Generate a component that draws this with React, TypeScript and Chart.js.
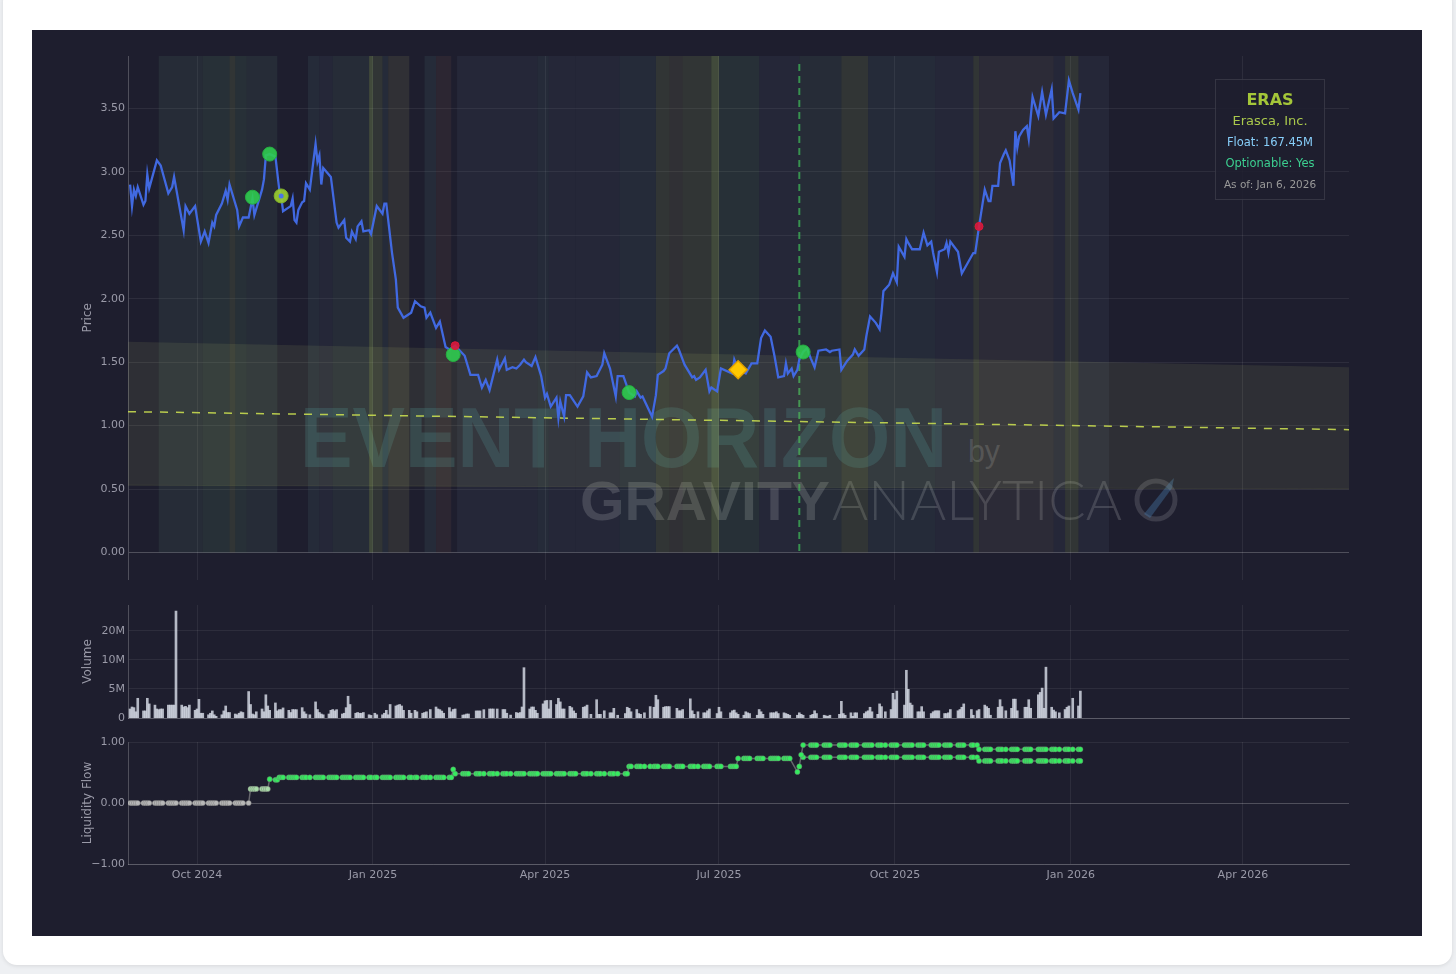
import React, { useEffect, useRef } from "react";
import { Chart, registerables } from "chart.js";

Chart.register(...registerables);

// ---------------- Price series ----------------
const priceDates = [
  "2024-08-27","2024-08-28","2024-08-29","2024-08-30","2024-08-31","2024-09-03","2024-09-04","2024-09-05","2024-09-06","2024-09-10",
  "2024-09-12","2024-09-16","2024-09-18","2024-09-19","2024-09-24","2024-09-25","2024-09-27","2024-09-30","2024-10-03","2024-10-05",
  "2024-10-07","2024-10-09","2024-10-10","2024-10-11","2024-10-14","2024-10-16","2024-10-17","2024-10-18","2024-10-22","2024-10-23",
  "2024-10-25","2024-10-28","2024-10-30","2024-10-31","2024-11-04","2024-11-05","2024-11-06","2024-11-08","2024-11-11","2024-11-13",
  "2024-11-14","2024-11-15","2024-11-19","2024-11-20","2024-11-21","2024-11-22","2024-11-23","2024-11-25","2024-11-26","2024-11-27",
  "2024-11-29","2024-12-02","2024-12-03","2024-12-04","2024-12-05","2024-12-06","2024-12-10","2024-12-13","2024-12-14","2024-12-17",
  "2024-12-18","2024-12-20","2024-12-21","2024-12-23","2024-12-24","2024-12-26","2024-12-27","2024-12-30","2024-12-31","2025-01-03",
  "2025-01-06","2025-01-07","2025-01-08","2025-01-11","2025-01-13","2025-01-14","2025-01-17","2025-01-21","2025-01-23","2025-01-26",
  "2025-01-28","2025-01-29","2025-01-31","2025-02-03","2025-02-05","2025-02-08","2025-02-10","2025-02-13","2025-02-18","2025-02-21",
  "2025-02-25","2025-02-27","2025-03-01","2025-03-03","2025-03-05","2025-03-07","2025-03-08","2025-03-11","2025-03-12","2025-03-15",
  "2025-03-17","2025-03-19","2025-03-21","2025-03-22","2025-03-25","2025-03-27","2025-03-30","2025-04-01","2025-04-02","2025-04-04",
  "2025-04-07","2025-04-08","2025-04-09","2025-04-11","2025-04-12","2025-04-14","2025-04-18","2025-04-21","2025-04-23","2025-04-25",
  "2025-04-28","2025-05-01","2025-05-02","2025-05-05","2025-05-08","2025-05-09","2025-05-12","2025-05-15","2025-05-18","2025-05-19",
  "2025-05-21","2025-05-22","2025-05-27","2025-05-29","2025-05-30","2025-06-02","2025-06-03","2025-06-05","2025-06-09","2025-06-10",
  "2025-06-12","2025-06-13","2025-06-17","2025-06-18","2025-06-19","2025-06-21","2025-06-24","2025-06-26","2025-06-27","2025-06-30",
  "2025-07-02","2025-07-08","2025-07-09","2025-07-11","2025-07-15","2025-07-18","2025-07-21","2025-07-23","2025-07-25","2025-07-28",
  "2025-07-30","2025-08-01","2025-08-04","2025-08-05","2025-08-06","2025-08-08","2025-08-09","2025-08-11","2025-08-12","2025-08-14",
  "2025-08-16","2025-08-18","2025-08-20","2025-08-22","2025-08-26","2025-08-28","2025-08-29","2025-09-02","2025-09-03","2025-09-06",
  "2025-09-09","2025-09-10","2025-09-12","2025-09-15","2025-09-16","2025-09-18","2025-09-21","2025-09-23","2025-09-24","2025-09-25",
  "2025-09-28","2025-09-30","2025-10-02","2025-10-03","2025-10-06","2025-10-07","2025-10-08","2025-10-10","2025-10-14","2025-10-16",
  "2025-10-18","2025-10-20","2025-10-21","2025-10-23","2025-10-24","2025-10-27","2025-10-28","2025-10-29","2025-10-30","2025-11-01",
  "2025-11-03","2025-11-05","2025-11-08","2025-11-11","2025-11-12","2025-11-14","2025-11-17","2025-11-19","2025-11-20","2025-11-21",
  "2025-11-24","2025-11-25","2025-11-27","2025-11-28","2025-11-30","2025-12-02","2025-12-03","2025-12-04","2025-12-05","2025-12-07",
  "2025-12-09","2025-12-10","2025-12-12","2025-12-15","2025-12-17","2025-12-19","2025-12-22","2025-12-23","2025-12-26","2025-12-29",
  "2025-12-31","2026-01-02","2026-01-05","2026-01-06",
];
const priceValues = [
  2.90,2.73,2.86,2.81,2.88,2.74,2.77,2.98,2.87,3.09,
  3.05,2.83,2.88,2.96,2.54,2.73,2.67,2.73,2.45,2.53,
  2.44,2.60,2.57,2.66,2.75,2.85,2.78,2.90,2.70,2.57,
  2.64,2.64,2.79,2.66,2.86,2.94,3.13,3.14,3.12,2.86,
  2.81,2.69,2.73,2.79,2.62,2.60,2.70,2.76,2.77,2.91,
  2.86,3.22,3.08,3.13,2.90,3.03,2.96,2.60,2.56,2.62,
  2.48,2.45,2.53,2.47,2.57,2.61,2.53,2.54,2.51,2.73,
  2.67,2.75,2.75,2.36,2.15,1.93,1.85,1.89,1.98,1.94,
  1.93,1.85,1.89,1.77,1.82,1.62,1.60,1.63,1.55,1.40,
  1.40,1.30,1.36,1.28,1.40,1.52,1.44,1.53,1.44,1.46,
  1.45,1.48,1.52,1.50,1.47,1.54,1.39,1.22,1.25,1.15,
  1.22,1.06,1.19,1.07,1.24,1.24,1.15,1.23,1.42,1.38,
  1.39,1.48,1.57,1.45,1.23,1.39,1.39,1.26,1.23,1.27,
  1.22,1.23,1.07,1.24,1.40,1.43,1.45,1.57,1.63,1.60,
  1.52,1.48,1.38,1.39,1.36,1.38,1.44,1.27,1.30,1.27,
  1.45,1.41,1.52,1.44,1.41,1.49,1.49,1.69,1.75,1.70,
  1.55,1.38,1.39,1.49,1.41,1.45,1.39,1.44,1.52,1.58,
  1.61,1.53,1.46,1.59,1.60,1.58,1.59,1.60,1.44,1.51,
  1.56,1.60,1.55,1.60,1.70,1.86,1.81,1.76,1.89,2.06,
  2.11,2.20,2.13,2.41,2.33,2.47,2.44,2.39,2.39,2.52,
  2.42,2.45,2.36,2.21,2.37,2.39,2.44,2.36,2.45,2.41,
  2.37,2.20,2.28,2.36,2.36,2.57,2.86,2.77,2.77,2.89,
  2.89,3.07,3.14,3.17,3.09,2.89,3.32,3.19,3.28,3.33,
  3.36,3.26,3.59,3.44,3.63,3.45,3.65,3.42,3.47,3.46,
  3.72,3.62,3.49,3.62,
];

// ---------------- Signal markers ----------------
const greenSignalDates = ["2024-10-30","2024-11-08","2025-02-12","2025-05-15","2025-08-14"];
const greenSignalValues = [2.80, 3.14, 1.56, 1.26, 1.58];
const limeSignalDates = ["2024-11-14"];
const limeSignalValues = [2.81];
const redSignalDates = ["2025-02-13","2025-11-14"];
const redSignalValues = [1.63, 2.57];
const diamondDates = ["2025-07-11"];
const diamondValues = [1.44];
const eventDate = "2025-08-12";

// support zone & trend line (values at left and right edge of the axis)
const zoneTopEnds = [1.66, 1.46];
const zoneBottomEnds = [0.53, 0.50];
const trendEnds = [1.11, 0.968];

// ---------------- Background regime bands ----------------
const bandStarts = [
  "2024-09-11","2024-10-04","2024-10-18","2024-10-21","2024-10-27","2024-11-28","2024-12-04","2024-12-11","2024-12-30","2025-01-01",
  "2025-01-06","2025-01-09","2025-01-28","2025-02-03","2025-02-14","2025-03-28","2025-04-03","2025-04-17","2025-05-10","2025-05-29",
  "2025-06-05","2025-06-12","2025-06-27","2025-07-01","2025-07-22","2025-08-12","2025-09-03","2025-09-17","2025-10-22","2025-11-11",
  "2025-11-14","2025-12-23","2025-12-29","2026-01-05",
];
const bandEnds = [
  "2024-10-04","2024-10-18","2024-10-21","2024-10-27","2024-11-12","2024-12-04","2024-12-11","2024-12-30","2025-01-01","2025-01-06",
  "2025-01-09","2025-01-20","2025-02-03","2025-02-11","2025-03-28","2025-04-03","2025-04-17","2025-05-10","2025-05-29","2025-06-05",
  "2025-06-12","2025-06-27","2025-07-01","2025-07-22","2025-08-12","2025-09-03","2025-09-17","2025-10-22","2025-11-11","2025-11-14",
  "2025-12-23","2025-12-29","2026-01-05","2026-01-21",
];
const bandKinds = [
  "A","B","C","B","A","D","E","A","F","C",
  "D","G","D","H","E","D","E","E","D","C",
  "G","C","F","B","E","A","C","D","E","C",
  "I","E","C","E",
];

// ---------------- Volume (millions) ----------------
const volDates = [
  "2024-08-27","2024-08-28","2024-08-29","2024-08-30","2024-08-31","2024-09-03","2024-09-04","2024-09-05","2024-09-06","2024-09-09",
  "2024-09-10","2024-09-11","2024-09-12","2024-09-13","2024-09-16","2024-09-17","2024-09-18","2024-09-19","2024-09-20","2024-09-23",
  "2024-09-24","2024-09-25","2024-09-26","2024-09-27","2024-09-30","2024-10-01","2024-10-02","2024-10-03","2024-10-04","2024-10-07",
  "2024-10-08","2024-10-09","2024-10-10","2024-10-11","2024-10-14","2024-10-15","2024-10-16","2024-10-17","2024-10-18","2024-10-21",
  "2024-10-22","2024-10-23","2024-10-24","2024-10-25","2024-10-28","2024-10-29","2024-10-30","2024-10-31","2024-11-01","2024-11-04",
  "2024-11-05","2024-11-06","2024-11-07","2024-11-08","2024-11-11","2024-11-12","2024-11-13","2024-11-14","2024-11-15","2024-11-18",
  "2024-11-19","2024-11-20","2024-11-21","2024-11-22","2024-11-25","2024-11-26","2024-11-27","2024-11-29","2024-12-02","2024-12-03",
  "2024-12-04","2024-12-05","2024-12-06","2024-12-09","2024-12-10","2024-12-11","2024-12-12","2024-12-13","2024-12-16","2024-12-17",
  "2024-12-18","2024-12-19","2024-12-20","2024-12-23","2024-12-24","2024-12-25","2024-12-26","2024-12-27","2024-12-30","2024-12-31",
  "2025-01-02","2025-01-03","2025-01-06","2025-01-07","2025-01-08","2025-01-09","2025-01-10","2025-01-13","2025-01-14","2025-01-15",
  "2025-01-16","2025-01-17","2025-01-20","2025-01-21","2025-01-23","2025-01-24","2025-01-27","2025-01-28","2025-01-29","2025-01-31",
  "2025-02-03","2025-02-04","2025-02-05","2025-02-06","2025-02-07","2025-02-10","2025-02-11","2025-02-12","2025-02-13","2025-02-17",
  "2025-02-18","2025-02-19","2025-02-20","2025-02-24","2025-02-25","2025-02-26","2025-02-28","2025-03-03","2025-03-04","2025-03-05",
  "2025-03-07","2025-03-10","2025-03-11","2025-03-12","2025-03-14","2025-03-17","2025-03-18","2025-03-19","2025-03-20","2025-03-21",
  "2025-03-24","2025-03-25","2025-03-26","2025-03-27","2025-03-28","2025-03-31","2025-04-01","2025-04-02","2025-04-03","2025-04-04",
  "2025-04-07","2025-04-08","2025-04-09","2025-04-10","2025-04-11","2025-04-14","2025-04-15","2025-04-16","2025-04-17","2025-04-21",
  "2025-04-22","2025-04-23","2025-04-25","2025-04-28","2025-04-29","2025-04-30","2025-05-02","2025-05-05","2025-05-06","2025-05-07",
  "2025-05-09","2025-05-13","2025-05-14","2025-05-15","2025-05-16","2025-05-19","2025-05-20","2025-05-21","2025-05-23","2025-05-26",
  "2025-05-28","2025-05-29","2025-05-30","2025-06-02","2025-06-03","2025-06-04","2025-06-05","2025-06-09","2025-06-10","2025-06-11",
  "2025-06-12","2025-06-16","2025-06-17","2025-06-18","2025-06-20","2025-06-23","2025-06-24","2025-06-25","2025-06-26","2025-06-30",
  "2025-07-01","2025-07-02","2025-07-07","2025-07-08","2025-07-09","2025-07-10","2025-07-11","2025-07-14","2025-07-15","2025-07-16",
  "2025-07-17","2025-07-21","2025-07-22","2025-07-23","2025-07-24","2025-07-28","2025-07-29","2025-07-30","2025-07-31","2025-08-01",
  "2025-08-04","2025-08-05","2025-08-06","2025-08-07","2025-08-11","2025-08-12","2025-08-13","2025-08-14","2025-08-18","2025-08-19",
  "2025-08-20","2025-08-21","2025-08-25","2025-08-26","2025-08-27","2025-08-28","2025-09-02","2025-09-03","2025-09-04","2025-09-05",
  "2025-09-08","2025-09-09","2025-09-10","2025-09-11","2025-09-15","2025-09-16","2025-09-17","2025-09-18","2025-09-19","2025-09-22",
  "2025-09-23","2025-09-24","2025-09-26","2025-09-29","2025-09-30","2025-10-01","2025-10-02","2025-10-06","2025-10-07","2025-10-08",
  "2025-10-09","2025-10-10","2025-10-13","2025-10-14","2025-10-15","2025-10-16","2025-10-20","2025-10-21","2025-10-22","2025-10-23",
  "2025-10-24","2025-10-27","2025-10-28","2025-10-29","2025-10-30","2025-11-03","2025-11-04","2025-11-05","2025-11-06","2025-11-10",
  "2025-11-11","2025-11-13","2025-11-14","2025-11-17","2025-11-18","2025-11-19","2025-11-20","2025-11-24","2025-11-25","2025-11-26",
  "2025-11-28","2025-12-01","2025-12-02","2025-12-03","2025-12-04","2025-12-08","2025-12-09","2025-12-10","2025-12-11","2025-12-15",
  "2025-12-16","2025-12-17","2025-12-18","2025-12-19","2025-12-22","2025-12-23","2025-12-24","2025-12-26","2025-12-29","2025-12-30",
  "2025-12-31","2026-01-02","2026-01-05","2026-01-06",
];
const volumeMillions = [
  3.1,3.25,3.2,2.9,4.0,2.96,2.96,4.0,3.5,3.4,
  3.1,3.05,3.1,3.1,3.4,3.4,3.4,3.4,32.0,3.4,
  3.25,3.3,3.2,3.4,3.0,3.1,3.9,2.8,2.8,2.7,
  2.8,2.96,2.7,2.6,2.7,2.96,3.33,2.85,2.85,2.75,
  2.7,2.8,2.9,2.85,4.7,3.45,2.75,2.7,2.9,3.1,
  2.9,4.35,3.33,3.0,3.58,2.96,3.05,3.05,3.18,3.0,
  2.85,3.06,3.05,3.05,3.2,2.9,2.75,2.7,3.67,3.06,
  2.85,2.75,2.7,2.75,3.0,3.06,2.96,3.05,2.75,2.8,
  3.2,4.2,3.45,2.8,2.85,2.8,2.8,2.85,2.7,2.66,
  2.8,2.7,2.7,2.8,3.0,2.7,3.45,3.33,3.4,3.45,
  3.33,3.0,3.0,2.8,3.0,2.9,2.8,2.85,2.9,3.06,
  3.25,3.1,3.05,2.95,2.8,3.2,2.9,3.06,3.1,2.68,
  2.7,2.75,2.75,2.96,2.96,2.96,3.05,3.1,3.1,3.1,
  3.1,3.06,3.06,2.8,2.68,2.85,2.8,2.85,3.25,8.3,
  3.1,3.25,3.25,3.0,2.8,3.5,3.76,3.8,3.1,3.8,
  3.45,4.0,3.67,3.1,3.1,3.3,3.2,2.96,2.8,3.23,
  3.28,3.4,2.73,3.87,2.73,2.73,2.97,2.83,2.83,3.15,
  2.67,2.78,3.23,3.15,2.9,3.06,2.78,2.73,2.83,3.28,
  3.23,4.3,3.87,3.23,3.28,3.28,3.28,3.15,2.97,2.97,
  3.06,3.95,2.97,2.73,2.9,2.83,2.83,2.97,3.1,2.78,
  3.23,2.9,2.83,2.97,3.02,2.83,2.73,2.67,2.9,2.83,
  2.78,2.67,3.06,2.9,2.73,2.83,2.83,2.83,2.9,2.78,
  2.83,2.78,2.73,2.67,2.67,2.83,2.73,2.67,2.67,2.73,
  2.97,2.78,2.67,2.63,2.6,2.67,2.73,3.72,2.78,2.67,
  2.83,2.6,2.83,2.83,2.78,2.9,2.97,3.23,2.9,2.73,
  3.5,3.28,2.9,3.06,4.5,3.87,4.75,3.4,7.8,4.95,
  3.57,3.4,2.9,2.9,3.28,2.9,2.78,2.9,2.97,2.97,
  2.97,2.78,2.78,2.83,3.06,2.97,3.06,3.23,3.5,3.06,
  2.67,2.97,3.06,3.4,3.28,3.15,2.67,3.23,3.87,3.28,
  2.97,3.15,3.92,3.92,2.97,3.23,3.23,3.87,3.15,4.35,
  4.6,5.1,3.15,8.4,3.23,3.02,2.9,2.83,3.06,3.23,
  3.33,4.0,3.33,4.75,
];

// ---------------- Liquidity flow (one value per volDates entry) ----------------
const liquidityFlow = [
  0,0,0,0,0,0,0,0,0,0,
  0,0,0,0,0,0,0,0,0,0,
  0,0,0,0,0,0,0,0,0,0,
  0,0,0,0,0,0,0,0,0,0,
  0,0,0,0,0,
  0.23,0.23,0.23,0.23,0.23,0.23,0.23,0.23,
  0.39,0.38,0.38,
  0.42,0.42,0.42,0.42,0.42,0.42,0.42,0.42,0.42,0.42,
  0.42,0.42,0.42,0.42,0.42,0.42,0.42,0.42,0.42,0.42,
  0.42,0.42,0.42,0.42,0.42,0.42,0.42,0.42,0.42,0.42,
  0.42,0.42,0.42,0.42,0.42,0.42,0.42,0.42,0.42,0.42,
  0.42,0.42,0.42,0.42,0.42,0.42,0.42,0.42,0.42,0.42,
  0.42,0.42,0.42,0.42,0.42,0.42,0.42,0.42,0.42,0.42,
  0.42,
  0.55,
  0.48,0.48,0.48,0.48,0.48,0.48,0.48,0.48,0.48,0.48,
  0.48,0.48,0.48,0.48,0.48,0.48,0.48,0.48,0.48,0.48,
  0.48,0.48,0.48,0.48,0.48,0.48,0.48,0.48,0.48,0.48,
  0.48,0.48,0.48,0.48,0.48,0.48,0.48,0.48,0.48,0.48,
  0.48,0.48,0.48,0.48,0.48,0.48,0.48,0.48,0.48,0.48,
  0.48,0.48,0.48,0.48,0.48,
  0.60,0.60,0.60,0.60,0.60,0.60,0.60,0.60,0.60,0.60,
  0.60,0.60,0.60,0.60,0.60,0.60,0.60,0.60,0.60,0.60,
  0.60,0.60,0.60,0.60,0.60,0.60,0.60,0.60,0.60,0.60,
  0.60,0.60,0.60,
  0.73,0.73,0.73,0.73,0.73,0.73,0.73,0.73,0.73,0.73,
  0.73,0.73,0.73,0.73,0.73,0.73,0.73,0.73,
  0.51,0.60,0.79,
  0.95,0.95,0.95,0.95,0.95,0.95,0.95,0.95,0.95,0.95,
  0.95,0.95,0.95,0.95,0.95,0.95,0.95,0.95,0.95,0.95,
  0.95,0.95,0.95,0.95,0.95,0.95,0.95,0.95,0.95,0.95,
  0.95,0.95,0.95,0.95,0.95,0.95,0.95,0.95,0.95,0.95,
  0.95,0.95,0.95,0.95,0.95,0.95,0.95,0.95,0.95,0.95,
  0.95,0.95,0.95,0.95,0.95,
  0.88,0.88,0.88,0.88,0.88,0.88,0.88,0.88,0.88,0.88,
  0.88,0.88,0.88,0.88,0.88,0.88,0.88,0.88,0.88,0.88,
  0.88,0.88,0.88,0.88,0.88,0.88,0.88,0.88,0.88,0.88,
  0.88,0.88,
];
// second flow track (last entries of volDates, from 2025-08-14)
const liquidityFlowLower = [
  0.75,0.75,0.75,0.75,0.75,0.75,0.75,0.75,0.75,0.75,
  0.75,0.75,0.75,0.75,0.75,0.75,0.75,0.75,0.75,0.75,
  0.75,0.75,0.75,0.75,0.75,0.75,0.75,0.75,0.75,0.75,
  0.75,0.75,0.75,0.75,0.75,0.75,0.75,0.75,0.75,0.75,
  0.75,0.75,0.75,0.75,0.75,0.75,0.75,0.75,0.75,0.75,
  0.75,0.75,0.75,0.75,0.75,
  0.69,0.69,0.69,0.69,0.69,0.69,0.69,0.69,0.69,0.69,
  0.69,0.69,0.69,0.69,0.69,0.69,0.69,0.69,0.69,0.69,
  0.69,0.69,0.69,0.69,0.69,0.69,0.69,0.69,0.69,0.69,
  0.69,0.69,
];

// ---------------- Axis ticks ----------------
const xTickDates = ["2024-10-01","2025-01-01","2025-04-01","2025-07-01","2025-10-01","2026-01-01","2026-04-01"];
const xTickLabels = ["Oct 2024","Jan 2025","Apr 2025","Jul 2025","Oct 2025","Jan 2026","Apr 2026"];
const priceTicks = [0, 0.5, 1, 1.5, 2, 2.5, 3, 3.5];
const volumeTickValues = [2.5, 5, 10, 20];
const volumeTickLabels = ["0", "5M", "10M", "20M"];
const flowTicks = [-1, 0, 1];
const flowTickLabels = ["\u22121.00", "0.00", "1.00"];

// ---------------- Styling ----------------
const FONT = "'DejaVu Sans', Verdana, sans-serif";
const TICK_COLOR = "#9a9aa8";
const GRID = "rgba(255,255,255,0.07)";
const AXIS = "rgba(255,255,255,0.22)";
const ZERO = "rgba(255,255,255,0.22)";
const PANEL_BG = "#1e1e2e";
const BAND_TONES: Record<string, string> = {
  A: "rgba(100,150,120,0.12)",
  B: "rgba(100,160,110,0.14)",
  C: "rgba(140,160,90,0.18)",
  D: "rgba(90,140,140,0.12)",
  E: "rgba(90,105,130,0.12)",
  F: "rgba(150,180,90,0.30)",
  G: "rgba(145,140,90,0.17)",
  H: "rgba(140,90,80,0.13)",
  I: "rgba(125,120,105,0.15)",
};

const day = (s: string) =>
  Date.UTC(+s.slice(0, 4), +s.slice(5, 7) - 1, +s.slice(8, 10)) / 86400000;

const X_MIN = day("2024-08-26") - 0.1;
const X_MAX = day("2026-05-26") + 0.5;

function xAxis(showLabels: boolean, height: number, border: boolean): any {
  return {
    type: "linear",
    min: X_MIN,
    max: X_MAX,
    bounds: "data",
    offset: false,
    afterBuildTicks: (s: any) => {
      s.ticks = xTickDates.map((d) => ({ value: day(d) }));
    },
    afterFit: (s: any) => {
      s.height = height;
    },
    grid: { color: GRID, drawTicks: false, offset: false },
    border: { display: border, color: AXIS, width: 1 },
    ticks: {
      display: showLabels,
      padding: 5,
      color: TICK_COLOR,
      font: { family: FONT, size: 11 },
      maxRotation: 0,
      autoSkip: false,
      callback: (_v: any, i: number) => xTickLabels[i],
    },
  };
}

function yAxis(title: string, extra: any): any {
  return {
    position: "left",
    bounds: "data",
    afterFit: (s: any) => {
      s.width = 51;
    },
    border: { display: true, color: AXIS, width: 1 },
    title: {
      display: true,
      text: title,
      color: TICK_COLOR,
      font: { family: FONT, size: 12 },
      padding: { top: 4, bottom: 4 },
    },
    ...extra,
  };
}

const bandsPlugin = {
  id: "regimeBands",
  beforeDatasetsDraw(chart: any) {
    const { ctx, chartArea, scales } = chart;
    const x = scales.x;
    const y = scales.y;
    ctx.save();
    ctx.beginPath();
    ctx.rect(chartArea.left, chartArea.top, chartArea.width, chartArea.height);
    ctx.clip();
    const top = chartArea.top;
    const bottom = y.getPixelForValue(0);
    bandStarts.forEach((s, i) => {
      const x0 = x.getPixelForValue(day(s));
      const x1 = x.getPixelForValue(day(bandEnds[i]));
      ctx.fillStyle = BAND_TONES[bandKinds[i]];
      ctx.fillRect(x0, top, x1 - x0, bottom - top);
    });
    const ex = x.getPixelForValue(day(eventDate));
    ctx.strokeStyle = "rgba(60,165,85,0.85)";
    ctx.lineWidth = 2;
    ctx.setLineDash([7, 5]);
    ctx.beginPath();
    ctx.moveTo(ex, y.getPixelForValue(3.85));
    ctx.lineTo(ex, bottom);
    ctx.stroke();
    ctx.restore();
  },
};

const pts = (dates: string[], vals: number[]) => dates.map((d, i) => ({ x: day(d), y: vals[i] }));

export default function App() {
  const priceRef = useRef<HTMLCanvasElement | null>(null);
  const volRef = useRef<HTMLCanvasElement | null>(null);
  const flowRef = useRef<HTMLCanvasElement | null>(null);

  useEffect(() => {
    const common: any = {
      responsive: false,
      animation: false,
      devicePixelRatio: 1,
      events: [],
      plugins: { legend: { display: false }, tooltip: { enabled: false } },
    };

    const price = new Chart(priceRef.current as HTMLCanvasElement, {
      type: "line",
      data: {
        datasets: [
          {
            data: pts(redSignalDates, redSignalValues),
            showLine: false,
            pointRadius: 4,
            pointBackgroundColor: "rgba(220,25,60,0.9)",
            pointBorderColor: "rgba(220,25,60,1)",
            pointBorderWidth: 1,
            order: 0,
          },
          {
            data: pts(diamondDates, diamondValues),
            showLine: false,
            pointStyle: "rectRot",
            pointRadius: 9,
            pointBackgroundColor: "#ffc800",
            pointBorderColor: "#e0a000",
            pointBorderWidth: 1.5,
            order: 1,
          },
          {
            data: pts(limeSignalDates, limeSignalValues),
            showLine: false,
            pointRadius: 2.5,
            pointBackgroundColor: "#4a74e8",
            pointBorderWidth: 0,
            order: 2,
          },
          {
            data: pts(limeSignalDates, limeSignalValues),
            showLine: false,
            pointRadius: 7,
            pointBackgroundColor: "rgba(154,205,50,0.92)",
            pointBorderColor: "rgba(130,180,40,1)",
            pointBorderWidth: 1,
            order: 3,
          },
          {
            data: pts(greenSignalDates, greenSignalValues),
            showLine: false,
            pointRadius: 7,
            pointBackgroundColor: "rgba(48,205,80,0.9)",
            pointBorderColor: "rgba(38,175,65,1)",
            pointBorderWidth: 1,
            order: 4,
          },
          {
            data: pts(priceDates, priceValues),
            borderColor: "#4169e1",
            borderWidth: 2.3,
            pointRadius: 0,
            tension: 0,
            order: 5,
          },
          {
            data: [
              { x: X_MIN, y: trendEnds[0] },
              { x: X_MAX, y: trendEnds[1] },
            ],
            borderColor: "rgba(200,220,80,0.9)",
            borderWidth: 1.5,
            borderDash: [8, 8],
            pointRadius: 0,
            order: 6,
          },
          {
            data: [
              { x: X_MIN, y: zoneTopEnds[0] },
              { x: X_MAX, y: zoneTopEnds[1] },
            ],
            borderWidth: 0,
            borderColor: "rgba(0,0,0,0)",
            pointRadius: 0,
            fill: "+1",
            backgroundColor: "rgba(195,205,115,0.10)",
            order: 7,
          },
          {
            data: [
              { x: X_MIN, y: zoneBottomEnds[0] },
              { x: X_MAX, y: zoneBottomEnds[1] },
            ],
            borderWidth: 0.8,
            borderColor: "rgba(200,210,120,0.12)",
            pointRadius: 0,
            order: 8,
          },
        ],
      } as any,
      options: {
        ...common,
        layout: { padding: { left: 45, right: 73, top: 26, bottom: 10 } },
        scales: {
          x: xAxis(false, 0, false),
          y: yAxis("Price", {
            min: -0.213,
            max: 3.913,
            afterBuildTicks: (s: any) => {
              s.ticks = priceTicks.map((v) => ({ value: v }));
            },
            grid: {
              drawTicks: false,
              color: (c: any) => (c.tick && c.tick.value === 0 ? ZERO : GRID),
            },
            ticks: {
              padding: 3,
              color: TICK_COLOR,
              font: { family: FONT, size: 11 },
              callback: (v: any) => Number(v).toFixed(2),
            },
          }),
        },
      } as any,
      plugins: [bandsPlugin],
    });

    const vol = new Chart(volRef.current as HTMLCanvasElement, {
      type: "bar",
      data: {
        datasets: [
          {
            data: pts(volDates, volumeMillions),
            backgroundColor: "rgba(215,220,230,0.82)",
            borderWidth: 0,
            barThickness: 2,
          },
        ],
      } as any,
      options: {
        ...common,
        layout: { padding: { left: 45, right: 73, top: 15, bottom: 12 } },
        scales: {
          x: xAxis(false, 0, true),
          y: yAxis("Volume", {
            type: "logarithmic",
            min: 2.5,
            max: 37,
            afterBuildTicks: (s: any) => {
              s.ticks = volumeTickValues.map((v) => ({ value: v }));
            },
            grid: { drawTicks: false, color: GRID },
            ticks: {
              padding: 3,
              color: TICK_COLOR,
              font: { family: FONT, size: 11 },
              autoSkip: false,
              callback: (_v: any, i: number) => volumeTickLabels[i],
            },
          }),
        },
      } as any,
    });

    const lowerDates = volDates.slice(volDates.length - liquidityFlowLower.length);
    const dotColor = (c: any) => {
      const v = c.raw ? c.raw.y : 0;
      if (v === 0) return "#b8b8b8";
      if (v < 0.3) return "#a8dca8";
      return "#35ec5f";
    };
    const flow = new Chart(flowRef.current as HTMLCanvasElement, {
      type: "line",
      data: {
        datasets: [
          {
            data: pts(volDates, liquidityFlow),
            borderColor: "rgba(150,150,150,0.6)",
            borderWidth: 1.5,
            pointRadius: 2.6,
            pointBackgroundColor: dotColor,
            pointBorderColor: "rgba(110,110,110,0.7)",
            pointBorderWidth: 0.6,
          },
          {
            data: pts(lowerDates, liquidityFlowLower),
            borderColor: "rgba(150,150,150,0.6)",
            borderWidth: 1.5,
            pointRadius: 2.6,
            pointBackgroundColor: dotColor,
            pointBorderColor: "rgba(110,110,110,0.7)",
            pointBorderWidth: 0.6,
          },
        ],
      } as any,
      options: {
        ...common,
        layout: { padding: { left: 45, right: 73, top: 12, bottom: 42 } },
        scales: {
          x: xAxis(true, 30, true),
          y: yAxis("Liquidity Flow", {
            min: -1,
            max: 1,
            afterBuildTicks: (s: any) => {
              s.ticks = flowTicks.map((v) => ({ value: v }));
            },
            grid: {
              drawTicks: false,
              color: (c: any) => (c.tick && c.tick.value === 0 ? ZERO : GRID),
            },
            ticks: {
              padding: 3,
              color: TICK_COLOR,
              font: { family: FONT, size: 11 },
              callback: (_v: any, i: number) => flowTickLabels[i],
            },
          }),
        },
      } as any,
    });

    return () => {
      price.destroy();
      vol.destroy();
      flow.destroy();
    };
  }, []);

  const infoLine = (text: string, top: number, color: string, size: number, bold = false) => (
    <div
      style={{
        position: "absolute",
        left: 0,
        top,
        width: "100%",
        height: 20,
        lineHeight: "20px",
        textAlign: "center",
        color,
        fontSize: size,
        fontWeight: bold ? 700 : 400,
        fontFamily: FONT,
        whiteSpace: "nowrap",
      }}
    >
      {text}
    </div>
  );

  return (
    <div style={{ position: "fixed", inset: 0, background: "#eef0f3", overflow: "hidden" }}>
      <div
        style={{
          position: "absolute",
          left: 3,
          top: -12,
          width: 1449,
          height: 977,
          background: "#ffffff",
          borderRadius: 14,
          boxShadow: "0 1px 4px rgba(0,0,0,0.10)",
        }}
      />
      <div
        style={{
          position: "absolute",
          left: 32,
          top: 30,
          width: 1390,
          height: 906,
          background: PANEL_BG,
          overflow: "hidden",
        }}
      >
        <svg
          width={1390}
          height={906}
          style={{ position: "absolute", left: 0, top: 0, pointerEvents: "none" }}
        >
          <text
            x={268}
            y={437}
            fontFamily="'Liberation Sans', Arial, sans-serif"
            fontWeight={700}
            fontSize={86}
            textLength={647}
            lengthAdjust="spacingAndGlyphs"
            fill="rgba(72,160,170,0.22)"
          >
            EVENT HORIZON
          </text>
          <text
            x={936}
            y={432}
            fontFamily="'Liberation Sans', Arial, sans-serif"
            fontSize={32}
            textLength={32}
            lengthAdjust="spacingAndGlyphs"
            fill="rgba(150,150,160,0.30)"
          >
            by
          </text>
          <text
            x={548}
            y={490}
            fontFamily="'Liberation Sans', Arial, sans-serif"
            fontWeight={700}
            fontSize={56}
            textLength={250}
            lengthAdjust="spacingAndGlyphs"
            fill="rgba(170,170,175,0.26)"
          >
            GRAVITY
          </text>
          <text
            x={800}
            y={490}
            fontFamily="Lato, 'Open Sans', sans-serif"
            fontWeight={300}
            fontSize={56}
            textLength={290}
            lengthAdjust="spacingAndGlyphs"
            fill="rgba(170,170,175,0.25)"
          >
            ANALYTICA
          </text>
          <circle cx={1124} cy={470} r={19} fill="none" stroke="rgba(150,150,160,0.25)" strokeWidth={5} />
          <path d="M1112 484 L1138 452 L1142 448 L1140 458 L1118 488 Z" fill="rgba(70,120,170,0.4)" />
        </svg>
        <canvas
          ref={priceRef}
          width={1390}
          height={560}
          style={{ position: "absolute", left: 0, top: 0, display: "block" }}
        />
        <canvas
          ref={volRef}
          width={1390}
          height={140}
          style={{ position: "absolute", left: 0, top: 560, display: "block" }}
        />
        <canvas
          ref={flowRef}
          width={1390}
          height={206}
          style={{ position: "absolute", left: 0, top: 700, display: "block" }}
        />
        <div
          style={{
            position: "absolute",
            left: 1183,
            top: 49,
            width: 110,
            height: 121,
            boxSizing: "border-box",
            border: "1px solid rgba(255,255,255,0.10)",
            background: "rgba(30,30,46,0.85)",
          }}
        >
          {infoLine("ERAS", 10, "#a4c639", 16, true)}
          {infoLine("Erasca, Inc.", 31, "#a9c84c", 13)}
          {infoLine("Float: 167.45M", 52, "#87cefa", 11.5)}
          {infoLine("Optionable: Yes", 73, "#3ccf91", 11.5)}
          {infoLine("As of: Jan 6, 2026", 94, "#9a9a9a", 10.5)}
        </div>
      </div>
    </div>
  );
}
